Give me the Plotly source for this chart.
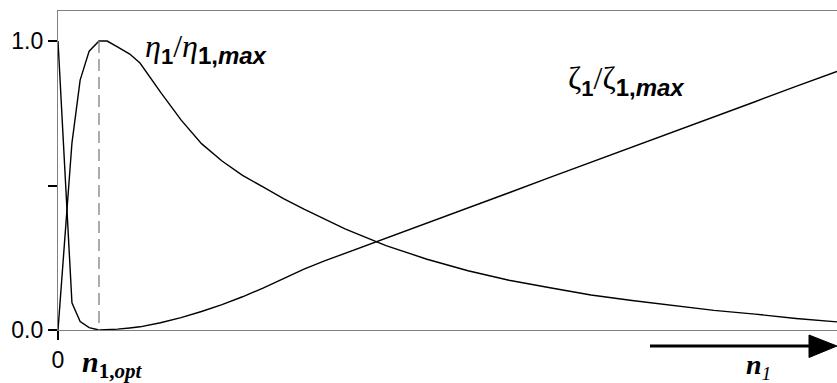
import plotly.graph_objects as go

# Normalised load n1 (units of the optimum load n1,opt)
n1 = [0, 0.34, 0.54, 0.76, 1.0, 1.2, 1.45, 1.75, 2, 2.5, 3, 3.5, 4, 4.5, 5, 5.5, 6, 6.5,
      7, 8, 9, 10, 11, 12, 13, 14, 15, 16, 17, 18, 19]

# Relative efficiency eta1/eta1,max
eta_rel = [0, 0.647, 0.865, 0.965, 1.0, 1.0, 0.98, 0.955, 0.924, 0.823, 0.727, 0.645, 0.585,
           0.535, 0.495, 0.455, 0.418, 0.383, 0.35, 0.292, 0.245, 0.205, 0.172, 0.146,
           0.121, 0.102, 0.085, 0.068, 0.055, 0.040, 0.028]

# Relative loss zeta1/zeta1,max
zeta_rel = [1.0, 0.094, 0.029, 0.008, 0.0, 0.001, 0.003, 0.007, 0.011, 0.025, 0.043, 0.064,
            0.088, 0.115, 0.145, 0.178, 0.211, 0.239, 0.265, 0.318, 0.370, 0.423,
            0.475, 0.528, 0.580, 0.633, 0.685, 0.738, 0.790, 0.843, 0.895]

n_opt = 1.0
y_ticks = [0.0, 0.5, 1.0]
y_tick_text = ["0.0", "", "1.0"]

W, H = 837, 383
ML, MR, MT, MB = 58, 0, 11, 53
X_MAX = 19.0
Y_MAX = 1.104
PW, PH = W - ML - MR, H - MT - MB


def px_x(px):
    """pixel column -> paper x"""
    return (px - ML) / PW


def px_y(py):
    """pixel row -> paper y"""
    return (H - MB - py) / PH


fig = go.Figure()
line_style = dict(color="black", width=1.4)
fig.add_trace(go.Scatter(x=n1, y=eta_rel, mode="lines", line=line_style,
                         hoverinfo="skip", showlegend=False))
fig.add_trace(go.Scatter(x=n1, y=zeta_rel, mode="lines", line=line_style,
                         hoverinfo="skip", showlegend=False))

# dashed marker of the optimum, running below the axis
fig.add_shape(type="line", xref="x", yref="y", x0=n_opt, x1=n_opt,
              y0=1.0, y1=-0.052, line=dict(color="#808080", width=1.3, dash="12px,6px"))

# arrow along the n1 direction beneath the axis
fig.add_shape(type="line", xref="paper", yref="paper", x0=px_x(650), x1=px_x(812),
              y0=px_y(346), y1=px_y(346), line=dict(color="black", width=3))
fig.add_shape(type="path", xref="paper", yref="paper",
              path=(f"M {px_x(809)} {px_y(335)} L {px_x(837)} {px_y(346)} "
                    f"L {px_x(809)} {px_y(357.5)} Z"),
              fillcolor="black", line=dict(color="black", width=1))

serif = "Liberation Serif, Times New Roman, serif"
sans = "Liberation Sans, Arial, sans-serif"


def sub_sans(txt, size):
    return (f"<sub><span style='font-family:Liberation Sans;font-size:{size}px'>"
            f"<b>{txt}</b></span></sub>")


fig.add_annotation(xref="paper", yref="paper", x=px_x(80), y=px_y(364),
                   text="<b><i>n</i></b><sub><b>1,<i>opt</i></b></sub>",
                   showarrow=False, xanchor="left", yanchor="middle",
                   font=dict(family=serif, size=30, color="black"))
fig.add_annotation(xref="paper", yref="paper", x=px_x(744), y=px_y(366),
                   text="<b><i>n</i></b><sub><i>1</i></sub>",
                   showarrow=False, xanchor="left", yanchor="middle",
                   font=dict(family=serif, size=28, color="black"))

eta_label = ("<i>η</i>" + sub_sans("1", 22) + "/<i>η</i>" + sub_sans("1,<i>max</i>", 24))
fig.add_annotation(xref="paper", yref="paper", x=px_x(143), y=px_y(48),
                   text=eta_label, showarrow=False, xanchor="left", yanchor="middle",
                   font=dict(family=serif, size=32, color="black"))

zeta_label = ("ζ" + sub_sans("1", 22) + "/ζ" + sub_sans("1,<i>max</i>", 24))
fig.add_annotation(xref="paper", yref="paper", x=px_x(566), y=px_y(80),
                   text=zeta_label, showarrow=False, xanchor="left", yanchor="middle",
                   font=dict(family=serif, size=32, color="black"))

fig.update_layout(
    width=W, height=H,
    margin=dict(l=ML, r=MR, t=MT, b=MB, pad=0),
    plot_bgcolor="white", paper_bgcolor="white",
    xaxis=dict(range=[0, X_MAX], showgrid=False, zeroline=False,
               showline=True, linecolor="#808080", linewidth=1.3, mirror=True,
               tickvals=[0], ticktext=["0"], ticks="outside", ticklen=9,
               tickwidth=2, tickcolor="black",
               tickfont=dict(family=sans, size=23, color="black")),
    yaxis=dict(range=[0, Y_MAX], showgrid=False, zeroline=False,
               showline=True, linecolor="#808080", linewidth=1.3,
               tickvals=y_ticks, ticktext=y_tick_text, ticks="outside", ticklen=9,
               tickwidth=2, tickcolor="black",
               tickfont=dict(family=sans, size=23, color="black")),
)

fig.write_html("out.html")
